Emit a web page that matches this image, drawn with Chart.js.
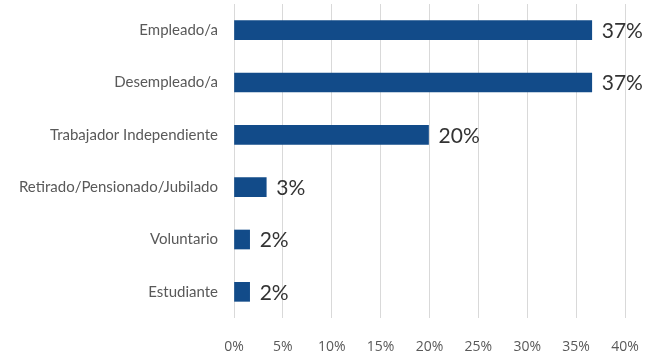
<!DOCTYPE html>
<html>
<head>
<meta charset="utf-8">
<script src="https://cdn.jsdelivr.net/npm/chart.js@4/dist/chart.umd.min.js"></script>
<style>
  html, body { margin: 0; padding: 0; background: #fff; }
  #wrap { width: 646px; height: 354px; position: relative; }
</style>
</head>
<body>
<div id="wrap"><canvas id="situacionChart"></canvas></div>
<script>
// situación laboral (porcentaje de respuestas)
const categorias = [
    "Empleado/a",
    "Desempleado/a",
    "Trabajador Independiente",
    "Retirado/Pensionado/Jubilado",
    "Voluntario",
    "Estudiante"
];
const porcentajes = [36.6, 36.6, 19.9, 3.3, 1.6, 1.6];
const ticksX = [0, 5, 10, 15, 20, 25, 30, 35, 40];

// etiqueta con el valor al final de cada barra
const etiquetasValor = {
    id: "etiquetasValor",
    afterDatasetsDraw(chart) {
        const ctx = chart.ctx;
        const meta = chart.getDatasetMeta(0);
        ctx.save();
        ctx.font = "21px Lato";
        ctx.fillStyle = "#333333";
        ctx.textAlign = "left";
        ctx.textBaseline = "middle";
        meta.data.forEach((bar, i) => {
            const v = chart.data.datasets[0].data[i];
            ctx.fillText(Math.round(v) + "%", bar.x + 10, bar.y + 1);
        });
        ctx.restore();
    }
};

new Chart(document.getElementById("situacionChart"), {
    type: "bar",
    data: {
        labels: categorias,
        datasets: [{
            data: porcentajes,
            backgroundColor: "#124b89",
            barThickness: 19
        }]
    },
    options: {
        indexAxis: "y",
        responsive: true,
        maintainAspectRatio: false,
        animation: false,
        layout: { padding: { top: 4, right: 21, bottom: 1, left: 0 } },
        plugins: {
            legend: { display: false },
            tooltip: { enabled: false }
        },
        scales: {
            x: {
                min: ticksX[0],
                max: ticksX[ticksX.length - 1],
                afterBuildTicks: scale => {
                    scale.ticks = ticksX.map(v => ({ value: v }));
                },
                afterFit: scale => {
                    scale.height = 35;
                    scale.paddingLeft = 0;
                    scale.paddingRight = 0;
                },
                grid: { color: "#d9d9d9", lineWidth: 1, drawTicks: false },
                border: { display: false },
                ticks: {
                    padding: 21,
                    maxRotation: 0,
                    color: "#595959",
                    font: { family: "'Open Sans'", size: 14 },
                    callback: v => v + "%"
                }
            },
            y: {
                afterFit: scale => {
                    scale.width = 234;
                    scale.paddingTop = 0;
                    scale.paddingBottom = 0;
                },
                grid: { display: false, drawTicks: false },
                border: { display: false },
                ticks: {
                    padding: 16,
                    color: "#595959",
                    font: { family: "Lato", size: 15 }
                }
            }
        }
    },
    plugins: [etiquetasValor]
});
</script>
</body>
</html>
